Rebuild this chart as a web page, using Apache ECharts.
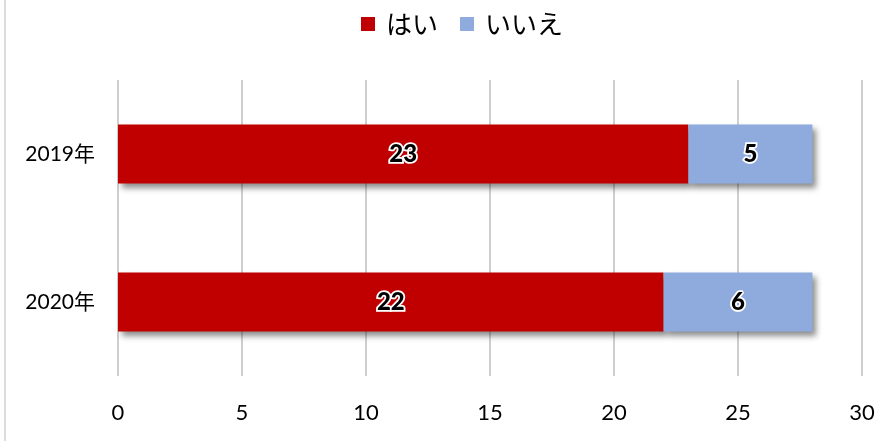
<!DOCTYPE html>
<html>
<head>
<meta charset="utf-8">
<script src="https://cdn.jsdelivr.net/npm/echarts@6/dist/echarts.min.js"></script>
<style>
  html, body { margin: 0; padding: 0; background: #fff; }
  #chart { width: 893px; height: 441px; }
</style>
</head>
<body>
<div id="chart"></div>
<script>
// Survey answers per year
const categories = ['2019年', '2020年'];
const yesValues = [23, 22];
const noValues = [5, 6];
const seriesNames = ['はい', 'いいえ'];
const xTicks = { min: 0, max: 30, interval: 5 };

const numFont = "Lato, 'Noto Sans CJK JP', sans-serif";
const jpFont = "'Noto Sans CJK JP', sans-serif";

const labelStyle = {
  show: true,
  position: 'inside',
  color: '#000',
  fontWeight: 900,
  fontSize: 24,
  fontFamily: numFont,
  textBorderColor: '#fff',
  textBorderWidth: 3.5
};

const shadow = {
  shadowColor: 'rgba(0,0,0,0.45)',
  shadowBlur: 6,
  shadowOffsetX: 4,
  shadowOffsetY: 4
};

const chart = echarts.init(document.getElementById('chart'));
chart.setOption({
  animation: false,
  legend: {
    top: 6,
    left: 356,
    itemWidth: 14,
    itemHeight: 14,
    itemGap: 22,
    icon: 'rect',
    textStyle: { fontSize: 26, fontFamily: jpFont, color: '#000', padding: [0, 0, 0, 6] },
    data: seriesNames
  },
  grid: { left: 118, right: 31, top: 80, bottom: 65 },
  xAxis: {
    type: 'value',
    min: xTicks.min,
    max: xTicks.max,
    interval: xTicks.interval,
    axisLine: { show: false },
    axisTick: { show: false },
    splitLine: { show: true, lineStyle: { color: '#bfbfbf', width: 1.5 } },
    axisLabel: { fontSize: 22, fontFamily: numFont, color: '#000', margin: 26 }
  },
  yAxis: {
    type: 'category',
    data: categories,
    inverse: true,
    axisLine: { show: false },
    axisTick: { show: false },
    axisLabel: { fontSize: 21, fontFamily: numFont, color: '#000', margin: 23 }
  },
  series: [
    {
      name: seriesNames[0],
      type: 'bar',
      stack: 'total',
      barWidth: 59,
      data: yesValues,
      itemStyle: Object.assign({ color: '#c00000' }, shadow),
      label: labelStyle
    },
    {
      name: seriesNames[1],
      type: 'bar',
      stack: 'total',
      barWidth: 59,
      data: noValues,
      itemStyle: Object.assign({ color: '#8faadc' }, shadow),
      label: labelStyle
    }
  ],
  graphic: [
    {
      type: 'line',
      shape: { x1: 5, y1: 0, x2: 5, y2: 441 },
      style: { stroke: '#d0d0d0', lineWidth: 1.5 }
    }
  ]
});
</script>
</body>
</html>
